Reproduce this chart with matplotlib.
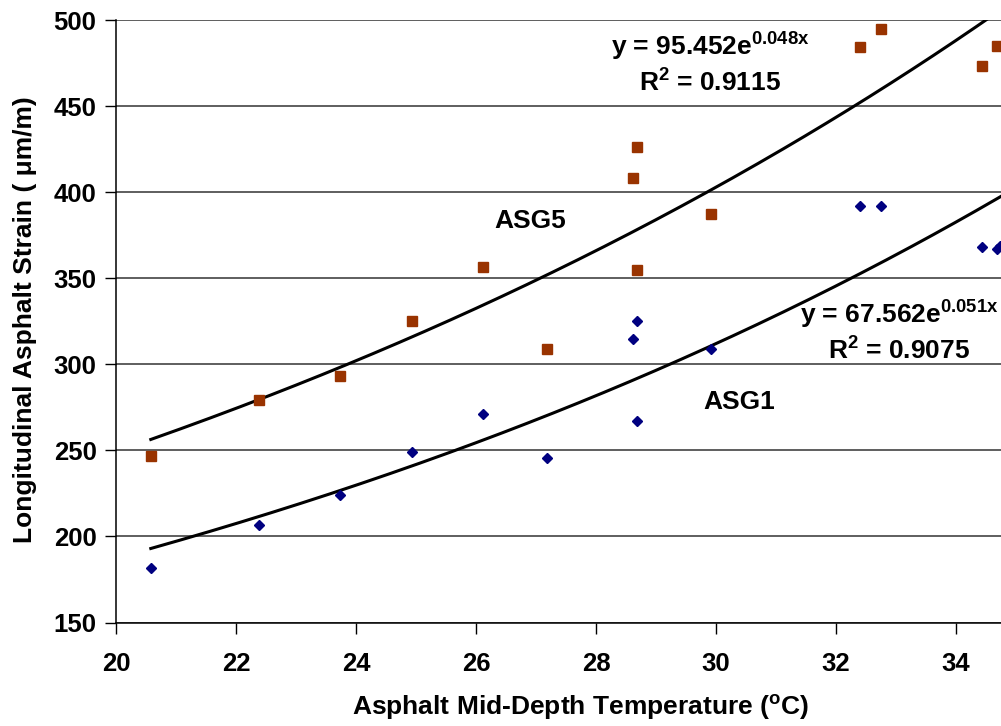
import numpy as np
import matplotlib
matplotlib.use('Agg')
import matplotlib.pyplot as plt
from matplotlib import rcParams

rcParams['font.family'] = 'Liberation Sans'
rcParams['font.weight'] = 'bold'
rcParams['mathtext.fontset'] = 'custom'
rcParams['mathtext.rm'] = 'Liberation Sans:bold'
rcParams['mathtext.bf'] = 'Liberation Sans:bold'
rcParams['mathtext.it'] = 'Liberation Sans:bold'
rcParams['mathtext.default'] = 'rm'
rcParams['xtick.direction'] = 'out'
rcParams['ytick.direction'] = 'out'

# ASG5 (squares)
asg5_temp = [20.58, 22.38, 23.73, 24.93, 26.11, 27.18, 28.62, 28.68, 28.68,
             29.91, 32.40, 32.75, 34.44, 34.68]
asg5_strain = [246.7, 279.1, 293.0, 325.2, 356.6, 309.1, 408.0, 426.4, 354.7,
               387.2, 484.5, 494.9, 473.3, 485.1]

# ASG1 (diamonds)
asg1_temp = [20.58, 22.38, 23.73, 24.93, 26.11, 27.18, 28.62, 28.69, 28.68,
             29.92, 32.40, 32.75, 34.44, 34.68, 34.74]
asg1_strain = [181.8, 206.4, 224.2, 248.8, 270.9, 245.8, 314.9, 325.2, 267.0,
               308.7, 392.0, 392.0, 368.2, 367.0, 369.0]

# exponential trendlines y = a*exp(b*x)
asg5_fit = (95.452, 0.048)
asg1_fit = (67.562, 0.051)

x_ticks = [20, 22, 24, 26, 28, 30, 32, 34]
y_ticks = [150, 200, 250, 300, 350, 400, 450, 500]

fig = plt.figure(figsize=(10.01, 7.26), dpi=100)
ax = fig.add_axes([116 / 1001., 1 - 622.5 / 726., (1001 - 116) / 1001., (622.5 - 20) / 726.])

# gridlines
for yv in y_ticks:
    ax.axhline(yv, color='#333333', lw=1.1, zorder=1)

# trend lines
xfit = np.linspace(min(asg5_temp), 34.76, 200)
ax.plot(xfit, asg5_fit[0] * np.exp(asg5_fit[1] * xfit), color='black', lw=2.2, zorder=3)
xfit = np.linspace(min(asg1_temp), 34.76, 200)
ax.plot(xfit, asg1_fit[0] * np.exp(asg1_fit[1] * xfit), color='black', lw=2.2, zorder=3)

ax.plot(asg5_temp, asg5_strain, 's', color='#993300', ms=7, mec='#993300', zorder=4, clip_on=False)
ax.plot(asg1_temp, asg1_strain, 'D', color='#000080', ms=5.3, mec='#000080', zorder=4, clip_on=False)

ax.set_xlim(20, 34.75)
ax.set_ylim(150, 500)
ax.set_xticks(x_ticks)
ax.set_yticks(y_ticks)
ax.tick_params(labelsize=18.5, length=8, width=1)
ax.tick_params(axis='x', pad=13)
ax.tick_params(axis='y', pad=6)
for s in ['top', 'right']:
    ax.spines[s].set_visible(False)
for s in ['left', 'bottom']:
    ax.spines[s].set_linewidth(1.1)

# annotations
ax.text(29.9, 484.5, r'y = 95.452e$^{0.048x}$', fontsize=19, ha='center', va='center')
ax.text(29.9, 463.5, r'R$^{2}$ = 0.9115', fontsize=19, ha='center', va='center')
ax.text(33.05, 328.5, r'y = 67.562e$^{0.051x}$', fontsize=19, ha='center', va='center')
ax.text(33.05, 308.0, r'R$^{2}$ = 0.9075', fontsize=19, ha='center', va='center')
ax.text(26.9, 383.5, 'ASG5', fontsize=19, ha='center', va='center')
ax.text(30.38, 278.0, 'ASG1', fontsize=19, ha='center', va='center')

fig.text(580 / 1001., 1 - 707 / 726., r'Asphalt Mid-Depth Temperature ($^{o}$C)',
         fontsize=19, ha='center', va='center')
fig.text(25 / 1001., 1 - 320 / 726., 'Longitudinal Asphalt Strain ( μm/m)',
         fontsize=19, ha='center', va='center', rotation=90)

fig.savefig('out.png', dpi=100)
